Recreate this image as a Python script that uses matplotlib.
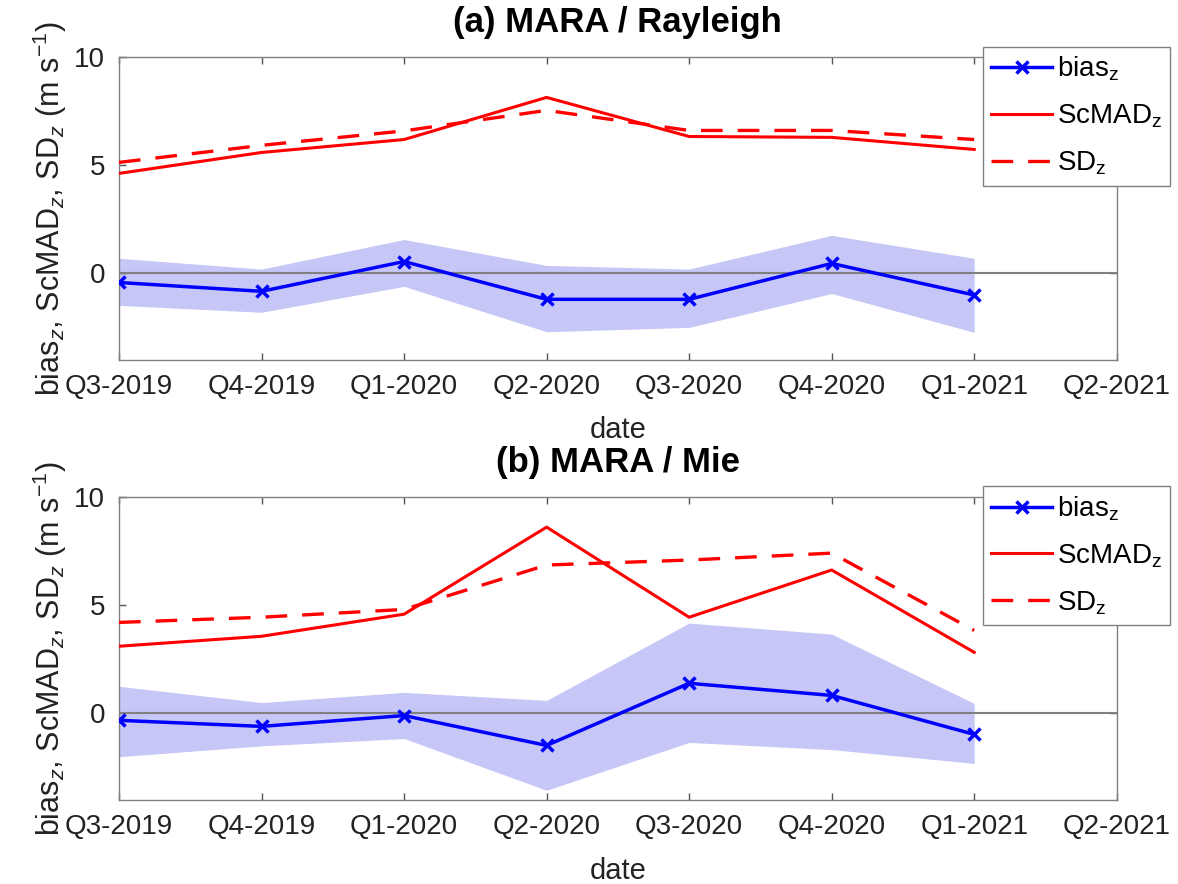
import matplotlib
matplotlib.use("Agg")
import matplotlib.pyplot as plt
import numpy as np

plt.rcParams['font.family'] = ['Liberation Sans', 'DejaVu Sans']
plt.rcParams['mathtext.fontset'] = 'custom'
plt.rcParams['mathtext.rm'] = 'Liberation Sans'
plt.rcParams['mathtext.it'] = 'Liberation Sans:italic'

# quarters on the x axis
quarters = ['Q3-2019', 'Q4-2019', 'Q1-2020', 'Q2-2020',
            'Q3-2020', 'Q4-2020', 'Q1-2021', 'Q2-2021']
n_data = 7

# (a) MARA / Rayleigh
ray_bias = [-0.42, -0.83, 0.55, -1.2, -1.2, 0.46, -1.0]
ray_upper = [0.7, 0.2, 1.57, 0.37, 0.2, 1.76, 0.7]
ray_lower = [-1.48, -1.8, -0.6, -2.7, -2.5, -0.93, -2.73]
ray_scmad = [4.63, 5.6, 6.2, 8.15, 6.34, 6.3, 5.74]
ray_sd = [5.14, 5.93, 6.6, 7.55, 6.62, 6.62, 6.2]

# (b) MARA / Mie
mie_bias = [-0.32, -0.6, -0.1, -1.48, 1.39, 0.83, -0.97]
mie_upper = [1.25, 0.5, 0.97, 0.6, 4.17, 3.66, 0.46]
mie_lower = [-2.0, -1.5, -1.16, -3.55, -1.34, -1.67, -2.31]
mie_scmad = [3.1, 3.56, 4.58, 8.6, 4.44, 6.62, 2.82]
mie_sd = [4.2, 4.44, 4.8, 6.85, 7.08, 7.4, 3.83]

panels = [
    ('(a) MARA / Rayleigh', ray_bias, ray_upper, ray_lower, ray_scmad, ray_sd),
    ('(b) MARA / Mie', mie_bias, mie_upper, mie_lower, mie_scmad, mie_sd),
]

fig = plt.figure(figsize=(11.78, 8.84), dpi=100)
rects = [[0.101, 0.593, 0.847, 0.342], [0.101, 0.095, 0.847, 0.343]]

x = np.arange(n_data)
ylab = r'bias$_z$, ScMAD$_z$, SD$_z$ (m s$^{-1}$)'

for rect, (title, bias, up, lo, scmad, sd) in zip(rects, panels):
    ax = fig.add_axes(rect)
    ax.fill_between(x, lo, up, color='#c6c6f7', linewidth=0, zorder=1)
    ax.axhline(0, color='#808080', linewidth=1.5, zorder=2)
    l1, = ax.plot(x, bias, color='blue', linewidth=2.5, marker='x',
                  markersize=8, markeredgewidth=2.5, zorder=3,
                  label=r'bias$_{\mathrm{z}}$')
    l2, = ax.plot(x, scmad, color='red', linewidth=2.2, zorder=3,
                  label=r'ScMAD$_{\mathrm{z}}$')
    l3, = ax.plot(x, sd, color='red', linewidth=2.4, linestyle=(0, (6.5, 4.5)),
                  zorder=3, label=r'SD$_{\mathrm{z}}$')

    ax.set_xlim(0, len(quarters) - 1)
    ax.set_ylim(-4, 10)
    ax.set_xticks(np.arange(len(quarters)))
    ax.set_xticklabels(quarters)
    ax.set_yticks([0, 5, 10])
    ax.tick_params(direction='in', length=5, width=1, colors='#555555',
                   labelcolor='#222222', labelsize=20, top=True, right=True,
                   pad=10)
    for sp in ax.spines.values():
        sp.set_color('#808080')
        sp.set_linewidth(1)

    ax.set_title(title, fontsize=25, fontweight='bold', pad=18)
    ax.set_xlabel('date', fontsize=21, labelpad=12, color='#222222')
    ax.set_ylabel(ylab, fontsize=22, labelpad=4, color='#222222')

    leg = ax.legend(handles=[l1, l2, l3], loc='upper left',
                    bbox_to_anchor=(0.866, 1.036), borderaxespad=0,
                    fontsize=20, fancybox=False, framealpha=1,
                    edgecolor='#808080', handlelength=2.2,
                    labelspacing=0.7, borderpad=0.3, handletextpad=0.15)
    leg.get_frame().set_linewidth(1)
    leg.set_zorder(10)

fig.savefig('out.png', dpi=100)
